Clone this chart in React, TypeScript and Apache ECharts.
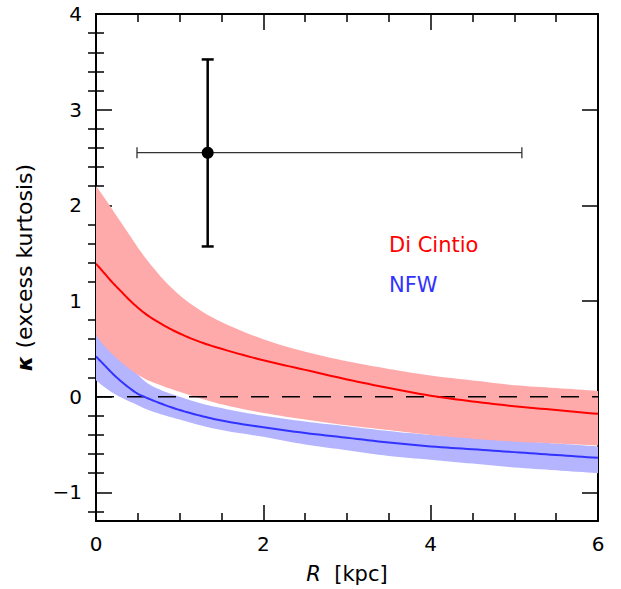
import React, { useEffect, useRef } from "react";
import * as echarts from "echarts";

const R_VALUES = [0, 0.1, 0.2, 0.3, 0.4, 0.5, 0.6, 0.8, 1.0, 1.25, 1.5, 2.0, 2.5, 3.0, 3.5, 4.0, 4.5, 5.0, 5.5, 6.0];
const DI_CINTIO_MID = [1.39, 1.29, 1.19, 1.1, 1.01, 0.93, 0.86, 0.75, 0.66, 0.57, 0.5, 0.38, 0.28, 0.18, 0.09, 0.01, -0.05, -0.1, -0.14, -0.18];
const DI_CINTIO_HIGH = [2.2, 2.08, 1.95, 1.82, 1.69, 1.56, 1.44, 1.23, 1.06, 0.9, 0.78, 0.6, 0.47, 0.37, 0.29, 0.22, 0.17, 0.12, 0.09, 0.06];
const DI_CINTIO_LOW = [0.64, 0.53, 0.44, 0.36, 0.29, 0.23, 0.18, 0.11, 0.05, -0.02, -0.08, -0.17, -0.24, -0.3, -0.35, -0.4, -0.44, -0.47, -0.49, -0.51];
const NFW_MID = [0.42, 0.33, 0.24, 0.16, 0.09, 0.03, -0.01, -0.08, -0.14, -0.2, -0.25, -0.32, -0.38, -0.43, -0.48, -0.52, -0.55, -0.58, -0.61, -0.64];
const NFW_HIGH = [0.64, 0.58, 0.5, 0.4, 0.31, 0.23, 0.15, 0.06, 0.0, -0.07, -0.12, -0.2, -0.26, -0.31, -0.36, -0.4, -0.43, -0.46, -0.49, -0.52];
const NFW_LOW = [0.17, 0.1, 0.04, -0.01, -0.05, -0.09, -0.13, -0.19, -0.24, -0.3, -0.35, -0.42, -0.5, -0.56, -0.62, -0.66, -0.7, -0.74, -0.77, -0.8];

// observed point: [R, kappa, R_low, R_high, kappa_low, kappa_high]
const OBSERVED = [[1.335, 2.55, 0.49, 5.09, 1.57, 3.525]];

const X_TICKS = [0, 2, 4, 6];
const Y_MAJOR_TICKS = [-1, 0, 1, 2, 3, 4];
const Y_MINOR_TICKS = [-1.2, -0.8, -0.6, -0.4, -0.2, 0.2, 0.4, 0.6, 0.8, 1.2, 1.4, 1.6, 1.8, 2.2, 2.4, 2.6, 2.8, 3.2, 3.4, 3.6, 3.8];

const FONT = "DejaVu Sans";
const RED = "#ff0000";
const RED_BAND = "#ffaaaa";
const BLUE = "#3333ff";
const BLUE_BAND = "#b4b4ff";

// Smooth rendering of a curve through the read points (cubic Hermite).
function smoothCurve(xs: number[], ys: number[], steps: number): number[][] {
  const n = xs.length;
  const slopes = xs.map((_, i) => {
    if (i === 0) return (ys[1] - ys[0]) / (xs[1] - xs[0]);
    if (i === n - 1) return (ys[n - 1] - ys[n - 2]) / (xs[n - 1] - xs[n - 2]);
    const a = (ys[i] - ys[i - 1]) / (xs[i] - xs[i - 1]);
    const b = (ys[i + 1] - ys[i]) / (xs[i + 1] - xs[i]);
    return (a + b) / 2;
  });
  const out: number[][] = [];
  for (let i = 0; i < n - 1; i++) {
    const h = xs[i + 1] - xs[i];
    for (let s = 0; s < steps; s++) {
      const t = s / steps;
      const h00 = 2 * t * t * t - 3 * t * t + 1;
      const h10 = t * t * t - 2 * t * t + t;
      const h01 = -2 * t * t * t + 3 * t * t;
      const h11 = t * t * t - t * t;
      out.push([
        xs[i] + t * h,
        h00 * ys[i] + h10 * h * slopes[i] + h01 * ys[i + 1] + h11 * h * slopes[i + 1],
      ]);
    }
  }
  out.push([xs[n - 1], ys[n - 1]]);
  return out;
}

function bandSeries(name: string, high: number[], low: number[], fill: string, z: number) {
  return {
    type: "custom",
    name,
    silent: true,
    clip: true,
    z,
    data: [[0, 0]],
    renderItem: (_params: any, api: any) => {
      const top = smoothCurve(R_VALUES, high, 8).map((p) => api.coord(p));
      const bottom = smoothCurve(R_VALUES, low, 8)
        .map((p) => api.coord(p))
        .reverse();
      return {
        type: "polygon",
        shape: { points: top.concat(bottom) },
        style: { fill, stroke: "none" },
      };
    },
  };
}

function curveSeries(name: string, values: number[], color: string, z: number) {
  return {
    type: "custom",
    name,
    silent: true,
    clip: true,
    z,
    data: [[0, 0]],
    renderItem: (_params: any, api: any) => {
      const pts = smoothCurve(R_VALUES, values, 8).map((p) => api.coord(p));
      return {
        type: "polyline",
        shape: { points: pts },
        style: { stroke: color, lineWidth: 2, fill: "none" },
      };
    },
  };
}

export default function App() {
  const ref = useRef<HTMLDivElement>(null);

  useEffect(() => {
    if (!ref.current) return;
    const chart = echarts.init(ref.current, undefined, { renderer: "svg" });

    const yBase = {
      type: "value",
      min: -1.3,
      max: 4,
      splitLine: { show: false },
      axisLine: { show: true, onZero: false, lineStyle: { color: "#000", width: 2 } },
    };
    const xBase = {
      type: "value",
      min: 0,
      max: 6,
      interval: 2,
      splitLine: { show: false },
      axisLine: { show: true, onZero: false, lineStyle: { color: "#000", width: 2 } },
      axisTick: { show: true, inside: true, length: 16, lineStyle: { color: "#000", width: 1.5 } },
      minorTick: { show: true, splitNumber: 4, length: 8, lineStyle: { color: "#000", width: 1.5 } },
    };

    const option: any = {
      animation: false,
      backgroundColor: "#fff",
      grid: { left: 96, right: 23, top: 14, bottom: 67, containLabel: false },
      xAxis: [
        {
          ...xBase,
          position: "bottom",
          axisLabel: {
            show: true,
            margin: 13,
            fontFamily: FONT,
            fontSize: 20,
            color: "#000",
            formatter: (v: number) => (X_TICKS.includes(v) ? String(v) : ""),
          },
          name: "{i|R}  [kpc]",
          nameLocation: "middle",
          nameGap: 42,
          nameTextStyle: {
            fontFamily: FONT,
            fontSize: 21,
            color: "#000",
            rich: { i: { fontFamily: FONT, fontSize: 21, fontStyle: "italic", color: "#000" } },
          },
        },
        {
          ...xBase,
          position: "top",
          axisLabel: { show: false },
        },
      ],
      yAxis: [
        {
          ...yBase,
          position: "left",
          axisTick: {
            show: true,
            inside: true,
            length: 16,
            customValues: Y_MAJOR_TICKS,
            lineStyle: { color: "#000", width: 1.5 },
          },
          axisLabel: {
            show: true,
            customValues: Y_MAJOR_TICKS,
            margin: 14,
            fontFamily: FONT,
            fontSize: 20,
            color: "#000",
            formatter: (v: number) => (v < 0 ? "\u2212" + Math.abs(v) : String(v)),
          },
          name: "{b|\u03ba} (excess kurtosis)",
          nameLocation: "middle",
          nameGap: 61,
          nameRotate: 90,
          nameTextStyle: {
            fontFamily: FONT,
            fontSize: 22,
            color: "#000",
            rich: { b: { fontFamily: FONT, fontSize: 22, fontWeight: "bold", fontStyle: "italic", color: "#000" } },
          },
        },
        {
          ...yBase,
          position: "left",
          axisLine: { show: false },
          axisLabel: { show: false },
          axisTick: {
            show: true,
            inside: true,
            length: 8,
            customValues: Y_MINOR_TICKS,
            lineStyle: { color: "#000", width: 1.5 },
          },
        },
        {
          ...yBase,
          position: "right",
          axisLabel: { show: false },
          axisTick: {
            show: true,
            inside: true,
            length: 16,
            customValues: Y_MAJOR_TICKS,
            lineStyle: { color: "#000", width: 1.5 },
          },
        },
        {
          ...yBase,
          position: "right",
          axisLine: { show: false },
          axisLabel: { show: false },
          axisTick: {
            show: true,
            inside: true,
            length: 8,
            customValues: Y_MINOR_TICKS,
            lineStyle: { color: "#000", width: 1.5 },
          },
        },
      ],
      series: [
        bandSeries("NFW band", NFW_HIGH, NFW_LOW, BLUE_BAND, 1),
        bandSeries("Di Cintio band", DI_CINTIO_HIGH, DI_CINTIO_LOW, RED_BAND, 2),
        {
          type: "line",
          z: 3,
          data: [
            [0, 0],
            [6, 0],
          ],
          showSymbol: false,
          silent: true,
          lineStyle: { color: "#000", width: 1.5, type: [18, 13] },
        },
        curveSeries("NFW", NFW_MID, BLUE, 4),
        curveSeries("Di Cintio", DI_CINTIO_MID, RED, 5),
        {
          type: "custom",
          z: 6,
          silent: true,
          data: OBSERVED,
          renderItem: (_params: any, api: any) => {
            const c = api.coord([api.value(0), api.value(1)]);
            const xl = api.coord([api.value(2), api.value(1)]);
            const xh = api.coord([api.value(3), api.value(1)]);
            const yl = api.coord([api.value(0), api.value(4)]);
            const yh = api.coord([api.value(0), api.value(5)]);
            const thin = { stroke: "#333", lineWidth: 1.3 };
            const thick = { stroke: "#000", lineWidth: 2.5 };
            return {
              type: "group",
              children: [
                { type: "line", shape: { x1: xl[0], y1: xl[1], x2: xh[0], y2: xh[1] }, style: thin },
                { type: "line", shape: { x1: xl[0], y1: xl[1] - 5.5, x2: xl[0], y2: xl[1] + 5.5 }, style: thin },
                { type: "line", shape: { x1: xh[0], y1: xh[1] - 5.5, x2: xh[0], y2: xh[1] + 5.5 }, style: thin },
                { type: "line", shape: { x1: yl[0], y1: yl[1], x2: yh[0], y2: yh[1] }, style: thick },
                { type: "line", shape: { x1: yl[0] - 6, y1: yl[1], x2: yl[0] + 6, y2: yl[1] }, style: thick },
                { type: "line", shape: { x1: yh[0] - 6, y1: yh[1], x2: yh[0] + 6, y2: yh[1] }, style: thick },
                { type: "circle", shape: { cx: c[0], cy: c[1], r: 6 }, style: { fill: "#000" } },
              ],
            };
          },
        },
      ],
      graphic: [
        {
          type: "text",
          left: 389,
          top: 234,
          style: { text: "Di Cintio", fontFamily: FONT, fontSize: 21, fill: RED },
        },
        {
          type: "text",
          left: 389,
          top: 274,
          style: { text: "NFW", fontFamily: FONT, fontSize: 21, fill: BLUE },
        },
      ],
    };

    chart.setOption(option);
    return () => chart.dispose();
  }, []);

  return (
    <div
      ref={ref}
      style={{ position: "fixed", left: 0, top: 0, width: 621, height: 589, background: "#fff" }}
    />
  );
}
